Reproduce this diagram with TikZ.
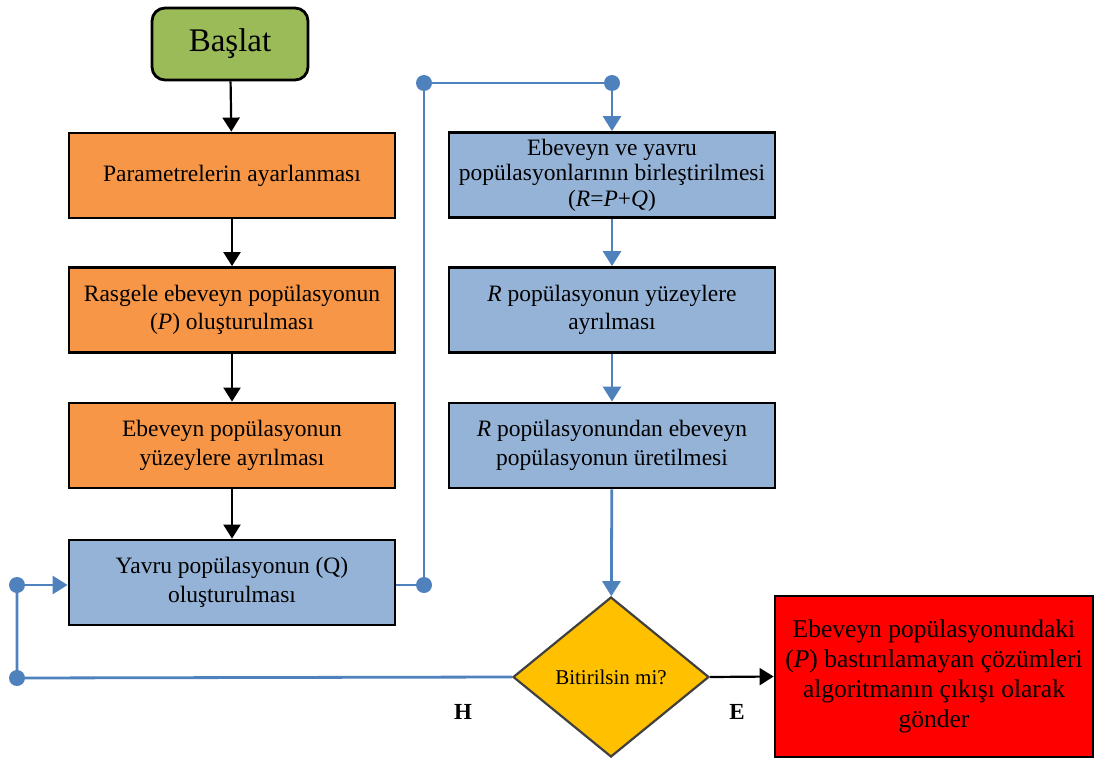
\documentclass[tikz,border=0pt]{standalone}
\usepackage{fontspec}
\setmainfont{Liberation Serif}
\usetikzlibrary{arrows.meta,shapes.geometric}
\definecolor{startgreen}{HTML}{9BBB59}
\definecolor{steporange}{HTML}{F79646}
\definecolor{stepblue}{HTML}{95B3D7}
\definecolor{linkblue}{HTML}{4F81BD}
\definecolor{askyellow}{HTML}{FFC000}
\definecolor{endred}{HTML}{FF0000}
\tikzset{
  x=1pt, y=-1pt,
  box/.style={draw=black, line width=2.8pt, minimum width=326pt, minimum height=85pt,
    align=center, font=\fontsize{23.5}{28.5}\selectfont, inner sep=1pt},
  orangebox/.style={box, fill=steporange},
  bluebox/.style={box, fill=stepblue},
  flow/.style={draw=black, line width=2.2pt, -{Triangle[length=14pt,width=17pt]}},
  link/.style={draw=linkblue, line width=2.8pt},
  linkarrow/.style={link, -{Triangle[length=15pt,width=18pt]}},
  joint/.style={circle, fill=linkblue, inner sep=0pt, minimum size=16pt},
  yesno/.style={font=\bfseries\fontsize{23}{26}\selectfont},
}
\begin{document}
\begin{tikzpicture}
\useasboundingbox (0,0) rectangle (1095,760);

% left column
\node[draw=black, line width=2.8pt, rounded corners=13pt, fill=startgreen,
  minimum width=156pt, minimum height=72pt, font=\fontsize{33}{38}\selectfont] (start) at (230,44) {Başlat};
\node[orangebox] (param) at (232,175.5) {Parametrelerin ayarlanması};
\node[orangebox] (init) at (232,310) {Rasgele ebeveyn popülasyonun\\(\textit{P}) oluşturulması};
\node[orangebox] (sortp) at (232,445.5) {Ebeveyn popülasyonun\\yüzeylere ayrılması};
\node[bluebox] (child) at (232,582.5) {Yavru popülasyonun (Q)\\oluşturulması};

% right column
\node[bluebox, font=\fontsize{23.5}{25.5}\selectfont] (merge) at (612,175)
  {Ebeveyn ve yavru\\popülasyonlarının birleştirilmesi\\(\textit{R}=\textit{P}+\textit{Q})};
\node[bluebox] (sortr) at (612,310) {\textit{R} popülasyonun yüzeylere\\ayrılması};
\node[bluebox] (select) at (612,445.5) {\textit{R} popülasyonundan ebeveyn\\popülasyonun üretilmesi};

% decision and output
\node[diamond, draw=black!75, line width=2.2pt, fill=askyellow, aspect=1.22,
  minimum width=196pt, minimum height=160pt, inner sep=0pt,
  font=\fontsize{21}{24}\selectfont] (stop) at (611,677) {Bitirilsin mi?};
\node[draw=black, line width=2.8pt, fill=endred, minimum width=318pt, minimum height=161pt,
  align=center, inner sep=1pt, font=\fontsize{25.5}{30}\selectfont] (out) at (934,676.5)
  {Ebeveyn popülasyonundaki\\(\textit{P}) bastırılamayan çözümleri\\algoritmanın çıkışı olarak\\gönder};

% main flow
\draw[flow] (start) -- (param);
\draw[flow] (param) -- (init);
\draw[flow] (init) -- (sortp);
\draw[flow] (sortp) -- (child);
\draw[linkarrow] (merge) -- (sortr);
\draw[linkarrow] (sortr) -- (select);
\draw[linkarrow] (select) -- (stop);
\draw[flow] (stop.east) -- (out.west);

% feed into the merge step
\coordinate (c1) at (424,585);
\coordinate (c2) at (424,83);
\coordinate (c3) at (612,83);
\draw[link] (child.east |- c1) -- (c1) -- (c2) -- (c3);
\draw[linkarrow] (c3) -- (merge.north);
\node[joint] (j1) at (c1) {};
\node[joint] (j2) at (c2) {};
\node[joint] (j3) at (c3) {};

% loop back
\coordinate (c4) at (17,678);
\coordinate (c5) at (17,585);
\draw[link] (stop.west) -- (c4) -- (c5);
\draw[linkarrow] (c5) -- (child.west |- c5);
\node[joint] (j4) at (c4) {};
\node[joint] (j5) at (c5) {};

\node[yesno] (no) at (463,712) {H};
\node[yesno] (yes) at (737,712) {E};
\end{tikzpicture}
\end{document}
